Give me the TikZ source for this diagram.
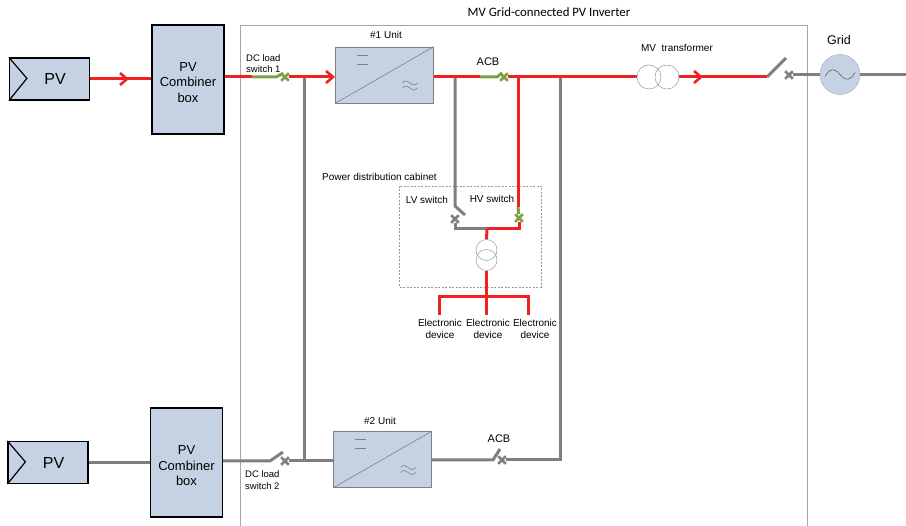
\documentclass[tikz,border=0pt]{standalone}
\usepackage{fontspec}
\setmainfont{Liberation Sans}
\newfontfamily\titlefont{Carlito}
\usetikzlibrary{arrows.meta,shapes.misc}
\definecolor{boxblue}{HTML}{C5D2E3}
\definecolor{linered}{HTML}{EE2222}
\definecolor{linegray}{HTML}{7F7F7F}
\definecolor{linegreen}{HTML}{7F9F45}
\tikzset{
    pvbox/.style={draw=black, line width=1.2pt, rectangle, fill=boxblue, minimum width=80pt, minimum height=42pt, inner sep=0pt, font=\fontsize{16}{18}\selectfont},
    combox/.style={draw=black, line width=1.3pt, rectangle, fill=boxblue, minimum width=72pt, minimum height=109pt, inner sep=0pt},
    comtext/.style={inner sep=0pt, align=center, font=\fontsize{13}{15.5}\selectfont},
    unitbox/.style={draw=gray, line width=0.7pt, rectangle, fill=boxblue, minimum width=98pt, minimum height=56pt, inner sep=0pt},
    lbl/.style={inner sep=0pt, align=center, font=\fontsize{10}{12}\selectfont},
    redline/.style={draw=linered, line width=3pt},
    grayline/.style={draw=linegray, line width=3pt},
    greenline/.style={draw=linegreen, line width=3pt},
    chevron/.style={-{Straight Barb[length=7pt,width=12pt,line width=2.6pt]}},
    swmark/.style={cross out, draw=linegray, line width=2.6pt, minimum size=5pt, inner sep=0pt},
    greenmark/.style={swmark, draw=linegreen},
    coil/.style={circle, draw=gray!80, line width=0.5pt, minimum size=24pt, inner sep=0pt},
    smallcoil/.style={coil, minimum size=21pt}
}
\begin{document}
\begin{tikzpicture}[x=1pt, y=-1pt]
    \useasboundingbox (0,0) rectangle (906,526);
    %   Inverter frame, open at the bottom
    \draw[draw=gray!70, line width=0.8pt] (240.5,526) -- (240.5,25.5) -- (807,25.5) -- (807,526);
    \node[lbl, font=\titlefont\fontsize{12.8}{14}\selectfont] (title) at (549,12) {MV Grid-connected PV Inverter};
    \draw[draw=gray!80, dash pattern=on 2pt off 1.5pt, line width=0.5pt] (399,186) rectangle (541,287);

    %   Boxes
    \node[pvbox] (pv1) at (49.5,79) {\hspace{11pt}PV};
    \node[pvbox] (pv2) at (48,462.5) {\hspace{11pt}PV};
    \draw[line width=1.2pt] (pv1.north west) -- ++(18,21) -- (pv1.south west);
    \draw[line width=1.2pt] (pv2.north west) -- ++(18,21) -- (pv2.south west);
    \node[combox] (comb1) at (188,79.5) {};
    \node[combox] (comb2) at (186.5,462.5) {};
    \node[comtext] (comb1txt) at (188,82.5) {PV\\Combiner\\box};
    \node[comtext] (comb2txt) at (186.5,466) {PV\\Combiner\\box};
    \node[unitbox] (unit1) at (384.5,75) {};
    \node[unitbox] (unit2) at (382.5,459.5) {};
    \foreach \u in {unit1,unit2} {
        \draw[draw=gray, line width=0.6pt] (\u.south west) -- (\u.north east);
        \draw[draw=gray, line width=0.6pt] ([shift={(-27.5,-20)}]\u.center) -- ++(11,0);
        \draw[draw=gray, line width=0.6pt] ([shift={(-27.5,-11)}]\u.center) -- ++(11,0);
        \draw[draw=gray, line width=0.6pt] ([shift={(18,8)}]\u.center) .. controls +(6,-7) and +(-6,7) .. ++(15,0);
        \draw[draw=gray, line width=0.6pt] ([shift={(18,13)}]\u.center) .. controls +(6,-7) and +(-6,7) .. ++(15,0);
    }

    %   Transformers and grid
    \node[coil] (tr1) at (649,77) {};
    \node[coil] (tr2) at (667,77) {};
    \node[smallcoil] (tr3) at (486.5,250) {};
    \node[smallcoil] (tr4) at (486.5,260) {};
    \node[circle, draw=gray!60, fill=boxblue, line width=0.5pt, minimum size=40pt, inner sep=0pt] (grid) at (840,74.5) {};
    \draw[draw=black!70, line width=0.5pt] ([shift={(-15,2)}]grid.center) .. controls +(6,-11) and +(-3,-4) .. (grid.center) .. controls +(3,4) and +(-6,11) .. ([shift={(15,-2)}]grid.center);

    %   Switch marks
    \node[greenmark] (x1) at (285,77) {};
    \node[greenmark] (x2) at (504,77) {};
    \node[swmark] (x3) at (789,75) {};
    \node[swmark] (x4) at (455,219) {};
    \node[greenmark] (x5) at (519,218) {};
    \node[swmark] (x6) at (285,461) {};
    \node[swmark] (x7) at (502,460) {};

    %   Junctions
    \coordinate (a1) at (129,79);
    \coordinate (s1) at (252,77);
    \coordinate (s1b) at (276,77);
    \coordinate (s1c) at (283,73.5);
    \coordinate (j1) at (304,77);
    \coordinate (j2) at (304,461);
    \coordinate (a2) at (335,77);
    \coordinate (s2) at (480,77);
    \coordinate (s2b) at (497,77);
    \coordinate (s2c) at (502,73);
    \coordinate (j3) at (455,77);
    \coordinate (j4) at (518,77);
    \coordinate (j5) at (560,77);
    \coordinate (a3) at (703,77);
    \coordinate (s3) at (767,77);
    \coordinate (s3c) at (786,58);
    \coordinate (s4) at (455,206);
    \coordinate (s4c) at (465,215);
    \coordinate (j6) at (455,229);
    \coordinate (j7) at (487,229);
    \coordinate (j8) at (519,229);
    \coordinate (s5) at (518,207);
    \coordinate (busl) at (439,297);
    \coordinate (busr) at (528,297);
    \coordinate (d1) at (439,315);
    \coordinate (d2) at (486.5,315);
    \coordinate (d3) at (528,315);
    \coordinate (s6) at (270,461);
    \coordinate (s6c) at (283,452);
    \coordinate (s7) at (493,460);
    \coordinate (s7c) at (500,449);
    \coordinate (j9) at (560,460);

    %   Gray connections
    \draw[grayline] (j1) -- (j2);
    \draw[grayline] (j3) -- (s4) -- (s4c);
    \draw[grayline] (x4) -- (j6) -- (j7);
    \draw[grayline] (j5) -- (j9) -- (x7);
    \draw[grayline] (pv2.east) -- (comb2.west);
    \draw[grayline] (comb2.east |- s6) -- (s6) -- (s6c);
    \draw[grayline] (x6) -- (unit2.west |- x6);
    \draw[grayline] (unit2.east |- s7) -- (s7) -- (s7c);
    \draw[grayline] (s3) -- (s3c);
    \draw[grayline] (x3) -- (grid.west |- x3);
    \draw[grayline] (grid.east) -- (906,74.5);

    %   Red connections
    \draw[redline] (pv1.east) -- (comb1.west |- a1);
    \draw[redline, chevron] (pv1.east) -- (a1);
    \draw[redline] (comb1.east |- s1) -- (s1);
    \draw[redline, chevron] (x1) -- (a2);
    \draw[redline] (unit1.east |- s2) -- (s2);
    \draw[redline] (x2) -- (tr1.west);
    \draw[redline] (tr2.east) -- (s3);
    \draw[redline, chevron] (tr2.east) -- (a3);
    \draw[redline] (j4) -- (s5);
    \draw[redline] (x5) -- (j8) -- (j7);
    \draw[redline] (j7) -- (tr3.north);
    \draw[redline] (tr4.south) -- (d2);
    \draw[redline] (d1) -- (busl) -- (busr) -- (d3);

    %   Closed switches
    \draw[greenline] (s1) -- (s1b) -- (s1c);
    \draw[greenline] (s2) -- (s2b) -- (s2c);
    \draw[greenline] (s5) -- (x5);

    %   Labels
    \node[lbl, anchor=west, align=left, font=\fontsize{9.5}{11.5}\selectfont] (l1) at (246,63.5) {DC load\\switch 1};
    \node[lbl, anchor=west, align=left, font=\fontsize{9.5}{12}\selectfont] (l2) at (245,480) {DC load\\switch 2};
    \node[lbl] (l3) at (386,35) {\#1 Unit};
    \node[lbl] (l4) at (380,421) {\#2 Unit};
    \node[lbl, font=\fontsize{11}{13}\selectfont] (l5) at (488,62) {ACB};
    \node[lbl, font=\fontsize{11}{13}\selectfont] (l6) at (499,439) {ACB};
    \node[lbl] (l7) at (677,48) {MV\ \ transformer};
    \node[lbl, font=\fontsize{12.5}{14}\selectfont] (l8) at (839,40) {Grid};
    \node[lbl, anchor=west] (l9) at (322,177) {Power distribution cabinet};
    \node[lbl] (l10) at (427,199.5) {LV switch};
    \node[lbl] (l11) at (492,199) {HV switch};
    \node[lbl] (e1) at (440,329) {Electronic\\device};
    \node[lbl] (e2) at (488,329) {Electronic\\device};
    \node[lbl] (e3) at (535,329) {Electronic\\device};
\end{tikzpicture}
\end{document}
